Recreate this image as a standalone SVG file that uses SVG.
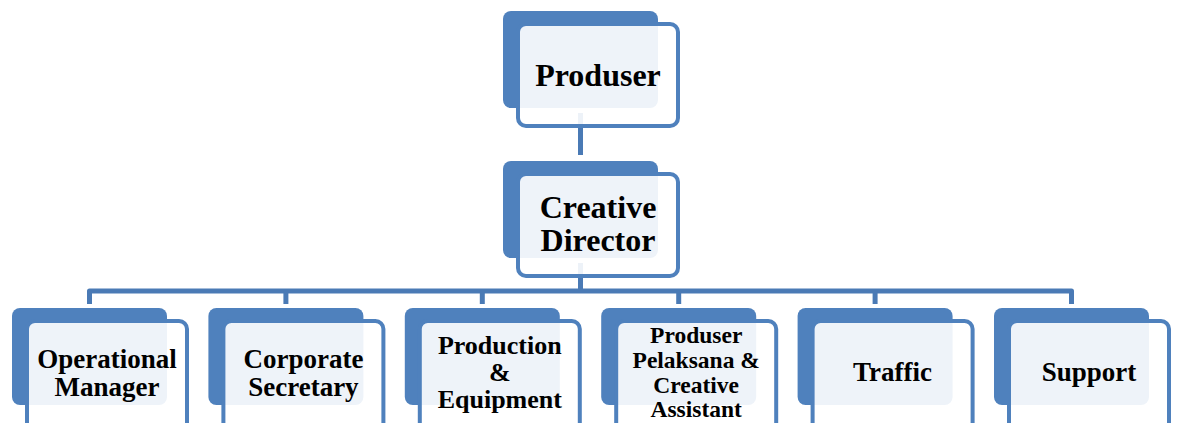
<svg xmlns="http://www.w3.org/2000/svg" width="1177" height="423" viewBox="0 0 1177 423">
<style>
.back{fill:#4F81BD;}
.front{fill:#FFFFFF;fill-opacity:0.9;stroke:#4F81BD;stroke-width:4;}
.conn{fill:none;stroke:#4A7AB5;stroke-width:5;stroke-linejoin:round;stroke-linecap:butt;}
text{font-family:"Liberation Serif","Times New Roman",serif;font-weight:bold;fill:#000;text-anchor:middle;}
.big{font-size:32px;}
.mid{font-size:27px;}
.tight{font-size:26px;}
.small{font-size:23.5px;}
</style>
<rect width="1177" height="423" fill="#FFFFFF"/>
<g id="connectors">
<line class="conn" x1="580.5" y1="113" x2="580.5" y2="155"/>
<line class="conn" x1="580.5" y1="263" x2="580.5" y2="291"/>
<path class="conn" d="M89.5,304 V291 H1071.5 V304"/>
<line class="conn" x1="285.9" y1="291" x2="285.9" y2="304"/>
<line class="conn" x1="482.3" y1="291" x2="482.3" y2="304"/>
<line class="conn" x1="678.7" y1="291" x2="678.7" y2="304"/>
<line class="conn" x1="875.1" y1="291" x2="875.1" y2="304"/>
</g>
<g id="node-produser">
<rect class="back" x="503" y="11" width="155" height="97" rx="8"/>
<rect class="front" x="518" y="24" width="160" height="102" rx="8"/>
<text class="big" x="598" y="86">Produser</text>
</g>
<g id="node-creative-director">
<rect class="back" x="503" y="161" width="155" height="97" rx="8"/>
<rect class="front" x="518" y="174" width="160" height="102" rx="8"/>
<text class="big" x="598" y="218">Creative</text>
<text class="big" x="598" y="251">Director</text>
</g>
<g id="node-operational-manager">
<rect class="back" x="12" y="308" width="155" height="97" rx="8"/>
<rect class="front" x="27" y="321" width="160" height="110" rx="8"/>
<text class="mid" x="107" y="368">Operational</text>
<text class="mid" x="107" y="396">Manager</text>
</g>
<g id="node-corporate-secretary">
<rect class="back" x="208.4" y="308" width="155" height="97" rx="8"/>
<rect class="front" x="223.4" y="321" width="160" height="110" rx="8"/>
<text class="mid" x="303.4" y="368">Corporate</text>
<text class="mid" x="303.4" y="396">Secretary</text>
</g>
<g id="node-production-equipment">
<rect class="back" x="404.8" y="308" width="155" height="97" rx="8"/>
<rect class="front" x="419.8" y="321" width="160" height="110" rx="8"/>
<text class="tight" x="499.8" y="354">Production</text>
<text class="tight" x="499.8" y="381">&amp;</text>
<text class="tight" x="499.8" y="408">Equipment</text>
</g>
<g id="node-produser-pelaksana">
<rect class="back" x="601.2" y="308" width="155" height="97" rx="8"/>
<rect class="front" x="616.2" y="321" width="160" height="110" rx="8"/>
<text class="small" x="696.2" y="343">Produser</text>
<text class="small" x="696.2" y="367.5">Pelaksana &amp;</text>
<text class="small" x="696.2" y="392.5">Creative</text>
<text class="small" x="696.2" y="417">Assistant</text>
</g>
<g id="node-traffic">
<rect class="back" x="797.6" y="308" width="155" height="97" rx="8"/>
<rect class="front" x="812.6" y="321" width="160" height="110" rx="8"/>
<text class="mid" x="892.6" y="381">Traffic</text>
</g>
<g id="node-support">
<rect class="back" x="994" y="308" width="155" height="97" rx="8"/>
<rect class="front" x="1009" y="321" width="160" height="110" rx="8"/>
<text class="mid" x="1089" y="381">Support</text>
</g>
</svg>
